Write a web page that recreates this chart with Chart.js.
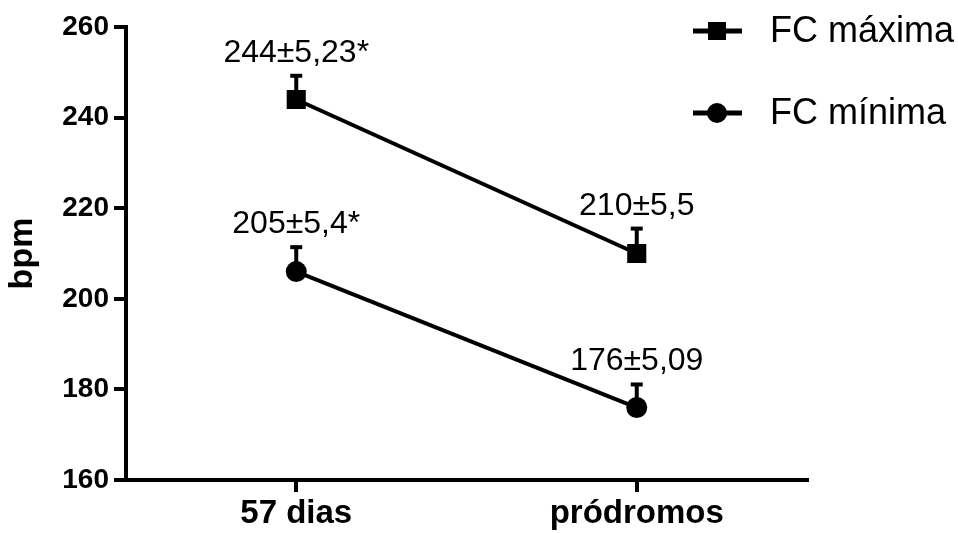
<!DOCTYPE html>
<html>
<head>
<meta charset="utf-8">
<script src="https://cdn.jsdelivr.net/npm/chart.js@4"></script>
<style>
  body { margin: 0; background: #fff; }
  #wrap { width: 958px; height: 533px; }
</style>
</head>
<body>
<div id="wrap"><canvas id="chart" width="958" height="533"></canvas></div>
<script>
// data
const categories = ["57 dias", "pródromos"];
const fcMaxima = [244, 210];
const fcMaximaErr = [5.23, 5.5];
const fcMinima = [206, 176];
const fcMinimaErr = [5.4, 5.09];
const maximaLabels = ["244±5,23*", "210±5,5"];
const minimaLabels = ["205±5,4*", "176±5,09"];
const yMin = 160, yMax = 260, yStep = 20;

const FONT = "'Liberation Sans', Arial, sans-serif";

// upward-only error bars with a cap, plus the value text above
const errorBars = {
  id: "errorBars",
  afterDatasetsDraw(chart) {
    const ctx = chart.ctx;
    const yScale = chart.scales.y;
    chart.data.datasets.forEach((ds, i) => {
      const meta = chart.getDatasetMeta(i);
      meta.data.forEach((pt, j) => {
        const top = yScale.getPixelForValue(ds.data[j] + ds.errors[j]);
        ctx.save();
        ctx.strokeStyle = "#000";
        ctx.lineWidth = 4;
        ctx.beginPath();
        ctx.moveTo(pt.x, pt.y);
        ctx.lineTo(pt.x, top);
        ctx.stroke();
        ctx.beginPath();
        ctx.moveTo(pt.x - 6, top);
        ctx.lineTo(pt.x + 6, top);
        ctx.stroke();

        ctx.fillStyle = "#000";
        ctx.font = "32px " + FONT;
        ctx.textAlign = "center";
        ctx.textBaseline = "alphabetic";
        ctx.fillText(ds.valueLabels[j], pt.x, top - 14);
        ctx.restore();
      });
    });
  }
};

// legend in the top right corner, over the plot
const cornerLegend = {
  id: "cornerLegend",
  afterDraw(chart) {
    const ctx = chart.ctx;
    chart.data.datasets.forEach((ds, i) => {
      const y = 31 + i * 82;
      ctx.save();
      ctx.strokeStyle = "#000";
      ctx.fillStyle = "#000";
      ctx.lineWidth = 5;
      ctx.beginPath();
      ctx.moveTo(693, y);
      ctx.lineTo(742, y);
      ctx.stroke();
      if (ds.pointStyle === "rect") {
        ctx.fillRect(717 - 9, y - 9, 18, 18);
      } else {
        ctx.beginPath();
        ctx.arc(717, y, 10, 0, Math.PI * 2);
        ctx.fill();
      }
      ctx.font = "36px " + FONT;
      ctx.textAlign = "left";
      ctx.textBaseline = "middle";
      ctx.fillText(ds.label, 770, y + 1);
      ctx.restore();
    });
  }
};

new Chart(document.getElementById("chart"), {
  type: "line",
  data: {
    labels: categories,
    datasets: [
      {
        label: "FC máxima",
        data: fcMaxima,
        errors: fcMaximaErr,
        valueLabels: maximaLabels,
        borderColor: "#000",
        backgroundColor: "#000",
        borderWidth: 4,
        pointStyle: "rect",
        pointRadius: 13.5,
        pointBorderWidth: 0,
        tension: 0,
      },
      {
        label: "FC mínima",
        data: fcMinima,
        errors: fcMinimaErr,
        valueLabels: minimaLabels,
        borderColor: "#000",
        backgroundColor: "#000",
        borderWidth: 4,
        pointStyle: "circle",
        pointRadius: 10.5,
        pointBorderWidth: 0,
        tension: 0,
      },
    ],
  },
  options: {
    responsive: false,
    animation: false,
    layout: { padding: { top: 27, right: 151, left: 0, bottom: 0 } },
    plugins: {
      legend: { display: false },
      tooltip: { enabled: false },
    },
    scales: {
      x: {
        type: "category",
        offset: true,
        grid: {
          offset: false,
          drawOnChartArea: false,
          color: "#000",
          tickLength: 12,
          lineWidth: 4,
        },
        border: { color: "#000", width: 4 },
        ticks: {
          color: "#000",
          padding: 2,
          font: { family: FONT, size: 33, weight: "bold" },
        },
        afterFit(scale) { scale.height = 53; },
      },
      y: {
        min: yMin,
        max: yMax,
        grid: {
          drawOnChartArea: false,
          color: "#000",
          tickLength: 12,
          lineWidth: 4,
        },
        border: { color: "#000", width: 4 },
        ticks: {
          stepSize: yStep,
          color: "#000",
          padding: 5,
          font: { family: FONT, size: 28, weight: "bold" },
        },
        title: {
          display: true,
          text: "bpm",
          color: "#000",
          padding: { top: 2, bottom: 0 },
          font: { family: FONT, size: 34, weight: "bold" },
        },
        afterFit(scale) { scale.width = 126; },
      },
    },
  },
  plugins: [errorBars, cornerLegend],
});
</script>
</body>
</html>
